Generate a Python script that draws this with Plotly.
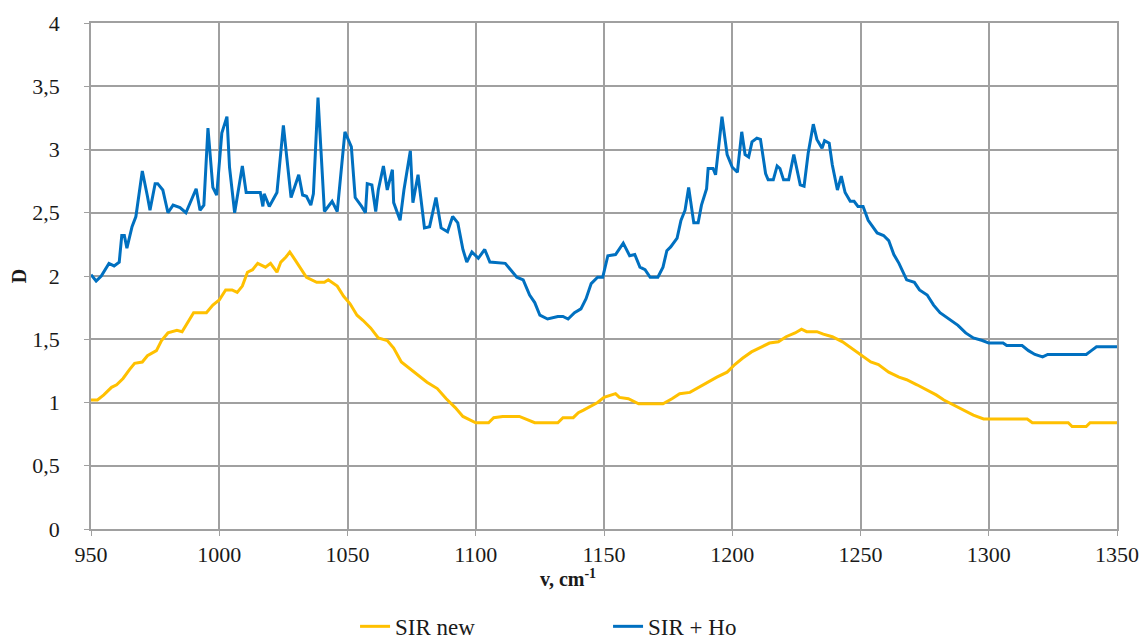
import plotly.graph_objects as go

# SIR + Ho (blue)
ho_x = [950, 952, 954, 957, 959, 961, 962, 963, 964, 966, 967.5, 970, 972, 973, 975, 976, 978, 980, 982, 984.7,
        987, 989, 991, 992.5, 994, 995.6, 997.5, 999, 1001, 1003, 1004, 1006, 1009, 1010.5, 1014, 1016, 1017,
        1017.5, 1019.5, 1022.5, 1025, 1028, 1031, 1032.5, 1034, 1035.7, 1036.7, 1038.5, 1041, 1044, 1046, 1049,
        1051.5, 1053, 1055.5, 1057, 1057.7, 1059.5, 1061, 1062, 1064, 1065.5, 1067.5, 1068, 1070.5, 1072, 1074.5,
        1075.5, 1077.5, 1080, 1082, 1084.5, 1086.5, 1089, 1091, 1093, 1095, 1096.5, 1098.5, 1101, 1103.5, 1105.5,
        1111.5, 1113.5, 1116, 1118.5, 1121, 1123, 1125, 1128, 1132, 1134, 1136, 1138.5, 1141, 1143, 1145, 1147.5,
        1149.5, 1151.5, 1154.5, 1157.5, 1160, 1162, 1164, 1166, 1168, 1171, 1173, 1174.5, 1176, 1178.5, 1180,
        1181.6, 1183, 1185, 1186.7, 1188, 1190, 1190.6, 1192.5, 1193.5, 1196, 1198, 1200, 1202, 1203.7, 1205,
        1206.4, 1207.7, 1209.6, 1211, 1213, 1214, 1216, 1217.5, 1218.6, 1220, 1222, 1224, 1225.5, 1226.5, 1228,
        1229.6, 1231.6, 1233, 1235, 1236, 1237.8, 1239, 1241, 1242.5, 1244, 1246, 1247.5, 1249, 1251, 1253,
        1256.5, 1259, 1261, 1263, 1265, 1268, 1271, 1273, 1276, 1278.5, 1281, 1284, 1288, 1291, 1294, 1297.5,
        1300, 1305.6, 1307, 1313, 1315.5, 1318, 1321, 1323, 1338, 1340, 1342, 1350]
ho_y = [2.01, 1.96, 2.00, 2.10, 2.08, 2.11, 2.32, 2.32, 2.22, 2.39, 2.47, 2.83, 2.63, 2.52, 2.73, 2.73, 2.68, 2.50,
        2.56, 2.54, 2.50, 2.60, 2.69, 2.52, 2.56, 3.17, 2.70, 2.64, 3.13, 3.26, 2.86, 2.50, 2.87, 2.66, 2.66, 2.66,
        2.55, 2.65, 2.55, 2.66, 3.19, 2.62, 2.80, 2.64, 2.63, 2.56, 2.65, 3.41, 2.51, 2.59, 2.51, 3.14, 3.02, 2.62,
        2.55, 2.50, 2.73, 2.72, 2.51, 2.68, 2.87, 2.68, 2.84, 2.58, 2.44, 2.68, 2.99, 2.58, 2.80, 2.38, 2.39, 2.62,
        2.38, 2.35, 2.47, 2.42, 2.21, 2.11, 2.19, 2.14, 2.21, 2.11, 2.10, 2.05, 1.99, 1.97, 1.85, 1.79, 1.69, 1.66,
        1.68, 1.68, 1.66, 1.71, 1.74, 1.82, 1.94, 1.99, 1.99, 2.16, 2.17, 2.26, 2.16, 2.17, 2.07, 2.05, 1.99, 1.99,
        2.07, 2.20, 2.23, 2.30, 2.44, 2.52, 2.70, 2.42, 2.42, 2.56, 2.69, 2.85, 2.85, 2.80, 3.26, 2.96, 2.86, 2.82,
        3.14, 2.96, 2.94, 3.06, 3.09, 3.08, 2.81, 2.76, 2.76, 2.87, 2.85, 2.76, 2.76, 2.96, 2.80, 2.72, 2.71, 2.97,
        3.20, 3.08, 3.01, 3.07, 3.05, 2.88, 2.68, 2.79, 2.66, 2.59, 2.59, 2.55, 2.55, 2.44, 2.34, 2.32, 2.28, 2.17,
        2.10, 1.97, 1.95, 1.89, 1.85, 1.77, 1.71, 1.67, 1.61, 1.55, 1.51, 1.49, 1.47, 1.47, 1.45, 1.45, 1.41, 1.38,
        1.36, 1.38, 1.38, 1.41, 1.44, 1.44]

# SIR new (yellow)
new_x = [950, 952.5, 955, 958, 960, 962.5, 965, 967, 970, 972, 975.5, 977.5, 980, 983.5, 985.5, 987.5, 990, 995,
         997.5, 1000, 1002.5, 1005, 1007, 1009, 1011, 1013, 1015, 1018, 1020, 1022.5, 1024, 1026, 1027.5, 1029.5,
         1031.5, 1034, 1038, 1041, 1042.5, 1046, 1048.5, 1051, 1053.7, 1056, 1059, 1062, 1065.5, 1068, 1071,
         1073.5, 1077, 1081, 1085, 1088.5, 1092, 1095, 1100, 1105, 1107, 1110.5, 1117, 1119.5, 1123, 1132, 1134,
         1138, 1140, 1142, 1145, 1147.5, 1150, 1152.5, 1154.5, 1156, 1159.5, 1163.5, 1173, 1176.5, 1179.5, 1183.5,
         1188.5, 1194, 1198, 1201, 1204, 1207.5, 1211.5, 1214.5, 1218, 1221, 1224.5, 1227, 1229, 1233, 1235.5,
         1239, 1243, 1247, 1250, 1254, 1257, 1261, 1265, 1268, 1272, 1276, 1279.5, 1282.5, 1286.5, 1290.5, 1294,
         1298, 1315, 1317, 1331, 1332.5, 1338, 1339.5, 1350]
new_y = [1.02, 1.02, 1.06, 1.12, 1.14, 1.19, 1.26, 1.31, 1.32, 1.37, 1.41, 1.49, 1.55, 1.57, 1.56, 1.63, 1.71, 1.71,
         1.77, 1.81, 1.89, 1.89, 1.87, 1.92, 2.03, 2.05, 2.10, 2.07, 2.10, 2.03, 2.11, 2.15, 2.19, 2.13, 2.07, 1.99,
         1.95, 1.95, 1.97, 1.92, 1.84, 1.78, 1.69, 1.65, 1.59, 1.51, 1.49, 1.43, 1.32, 1.28, 1.23, 1.16, 1.11, 1.03,
         0.96, 0.89, 0.84, 0.84, 0.88, 0.89, 0.89, 0.87, 0.84, 0.84, 0.88, 0.88, 0.92, 0.94, 0.97, 1.00, 1.04, 1.06,
         1.07, 1.04, 1.03, 0.99, 0.99, 1.03, 1.07, 1.08, 1.14, 1.20, 1.24, 1.30, 1.35, 1.40, 1.44, 1.47, 1.48, 1.52,
         1.55, 1.58, 1.56, 1.56, 1.54, 1.52, 1.48, 1.42, 1.38, 1.32, 1.30, 1.24, 1.20, 1.18, 1.14, 1.10, 1.06, 1.02,
         0.98, 0.94, 0.90, 0.87, 0.87, 0.84, 0.84, 0.81, 0.81, 0.84, 0.84]

x_ticks = [950, 1000, 1050, 1100, 1150, 1200, 1250, 1300, 1350]
y_ticks = [0, 0.5, 1, 1.5, 2, 2.5, 3, 3.5, 4]
y_labels = ["0", "0,5", "1", "1,5", "2", "2,5", "3", "3,5", "4"]

FONT = "Liberation Serif, Times New Roman, serif"
GRID = "#a0a0a0"
TXT = "#1a1a1a"

fig = go.Figure()
fig.add_trace(go.Scatter(x=new_x, y=new_y, mode="lines", name="SIR new",
                         line=dict(color="#FFC000", width=3)))
fig.add_trace(go.Scatter(x=ho_x, y=ho_y, mode="lines", name="SIR + Ho",
                         line=dict(color="#0070C0", width=3)))

fig.add_annotation(text="<b>v, cm<sup>-1</sup></b>", xref="paper", yref="paper",
                   x=0.465, y=-0.097, xanchor="center", yanchor="middle", showarrow=False,
                   borderpad=0, font=dict(family=FONT, size=20, color=TXT))

fig.update_layout(
    width=1139, height=631,
    margin=dict(l=83, r=30, t=15, b=110, autoexpand=False),
    paper_bgcolor="white", plot_bgcolor="white",
    font=dict(family=FONT, size=22, color=TXT),
    showlegend=True,
    legend=dict(orientation="h", xref="container", yref="container",
                x=0.3047, xanchor="left", y=0.02, yanchor="middle",
                itemwidth=30, entrywidth=208, entrywidthmode="pixels",
                font=dict(family=FONT, size=23, color=TXT)),
    xaxis=dict(range=[950, 1350], tickvals=x_ticks, showgrid=True, gridcolor=GRID, gridwidth=1.5,
               zeroline=False, showline=True, linecolor=GRID, linewidth=1.5, mirror=True,
               ticks="outside", ticklen=5, tickcolor=GRID, automargin=False,
               tickfont=dict(family=FONT, size=22, color=TXT)),
    yaxis=dict(range=[0, 4], tickvals=y_ticks, ticktext=y_labels, showgrid=True, gridcolor=GRID, gridwidth=1.5,
               zeroline=False, showline=True, linecolor=GRID, linewidth=1.5, mirror=True,
               ticks="outside", ticklen=5, tickcolor=GRID, automargin=False, ticklabelstandoff=20,
               tickfont=dict(family=FONT, size=22, color=TXT),
               title=dict(text="<b>D</b>", font=dict(family=FONT, size=20, color=TXT), standoff=4)),
)

fig.write_html("out.html")
